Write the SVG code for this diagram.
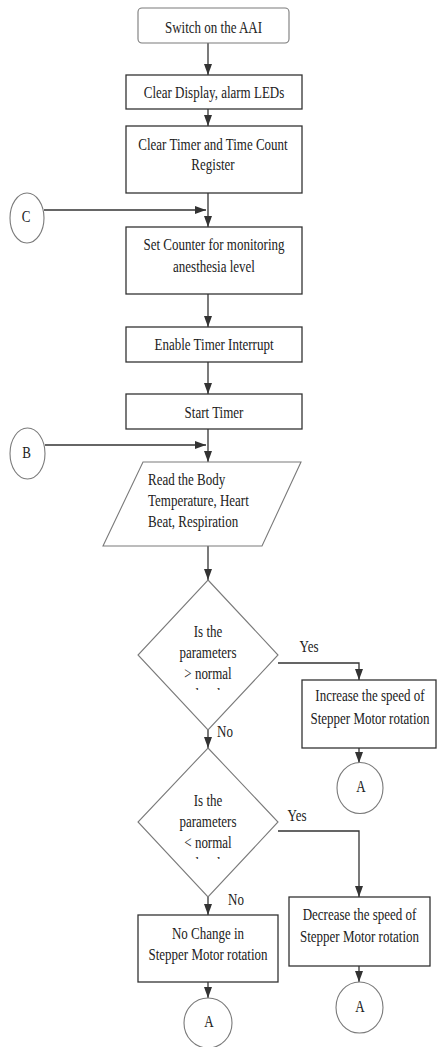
<svg xmlns="http://www.w3.org/2000/svg" width="437" height="1047" viewBox="0 0 437 1047">
<style>
text{font-family:"Liberation Serif","Times New Roman",serif;font-size:13px;fill:#222;text-anchor:middle}
.l{text-anchor:start}
.box{fill:#fff;stroke:#333;stroke-width:1.3}
.soft{fill:#fff;stroke:#7a7a7a;stroke-width:1.1}
.con{fill:none;stroke:#333;stroke-width:1.3}
</style>
<defs>
<marker id="ah" viewBox="0 0 10 10" refX="10" refY="5" markerWidth="11" markerHeight="8" markerUnits="userSpaceOnUse" orient="auto" preserveAspectRatio="none"><path d="M0,0 L10,5 L0,10 z" fill="#333"/></marker>
<clipPath id="c1"><rect x="130" y="600" width="160" height="90"/></clipPath>
<clipPath id="c2"><rect x="130" y="770" width="160" height="89"/></clipPath>
</defs>
<rect width="437" height="1047" fill="#fff"/>
<g id="connectors">
<path class="con" marker-end="url(#ah)" d="M208,43 V75"/>
<path class="con" marker-end="url(#ah)" d="M208,109 V126"/>
<path class="con" marker-end="url(#ah)" d="M208,193 V227"/>
<path class="con" marker-end="url(#ah)" d="M44,210 H206"/>
<path class="con" marker-end="url(#ah)" d="M208,294 V327"/>
<path class="con" marker-end="url(#ah)" d="M208,362 V394"/>
<path class="con" marker-end="url(#ah)" d="M208,429 V462"/>
<path class="con" marker-end="url(#ah)" d="M45,445 H206"/>
<path class="con" marker-end="url(#ah)" d="M208,546 V580"/>
<path class="con" marker-end="url(#ah)" d="M208,730 V748"/>
<path class="con" marker-end="url(#ah)" d="M278,663 H359 V680"/>
<path class="con" marker-end="url(#ah)" d="M359,748 V763"/>
<path class="con" marker-end="url(#ah)" d="M278,831 H359 V897"/>
<path class="con" marker-end="url(#ah)" d="M208,897 V915"/>
<path class="con" marker-end="url(#ah)" d="M359,966 V982"/>
<path class="con" marker-end="url(#ah)" d="M208,982 V998"/>
<text transform="translate(309,652) scale(1,1.3)">Yes</text>
<text class="l" transform="translate(217,737) scale(1,1.3)">No</text>
<text transform="translate(297,821) scale(1,1.3)">Yes</text>
<text class="l" transform="translate(228,905) scale(1,1.3)">No</text>
</g>
<g id="start">
<rect class="soft" x="138" y="8" width="151" height="35" rx="4"/>
<text transform="translate(213.5,33) scale(1,1.3)">Switch on the AAI</text>
</g>
<g id="clearDisplay">
<rect class="box" x="126" y="75" width="176" height="34"/>
<text transform="translate(214,97.5) scale(1,1.3)">Clear Display, alarm LEDs</text>
</g>
<g id="clearTimer">
<rect class="box" x="126" y="126" width="176" height="67"/>
<text transform="translate(213,150) scale(1,1.3)">Clear Timer and Time Count</text>
<text transform="translate(213,170) scale(1,1.3)">Register</text>
</g>
<g id="connC">
<ellipse class="soft" cx="27" cy="218" rx="17" ry="25"/>
<text transform="translate(26,222) scale(1,1.3)">C</text>
</g>
<g id="setCounter">
<rect class="box" x="126" y="227" width="176" height="67"/>
<text transform="translate(214,250) scale(1,1.3)">Set Counter for monitoring</text>
<text transform="translate(214,272) scale(1,1.3)">anesthesia level</text>
</g>
<g id="enableTimer">
<rect class="box" x="126" y="327" width="176" height="35"/>
<text transform="translate(214,350) scale(1,1.3)">Enable Timer Interrupt</text>
</g>
<g id="startTimer">
<rect class="box" x="126" y="394" width="176" height="35"/>
<text transform="translate(214,418) scale(1,1.3)">Start Timer</text>
</g>
<g id="connB">
<ellipse class="soft" cx="27.5" cy="453.5" rx="17.5" ry="25.5"/>
<text transform="translate(26.5,458) scale(1,1.3)">B</text>
</g>
<g id="readInput">
<polygon class="soft" points="143,462 301,462 262,546 103,546"/>
<text class="l" transform="translate(148,485) scale(1,1.3)">Read the Body</text>
<text class="l" transform="translate(148,506) scale(1,1.3)">Temperature, Heart</text>
<text class="l" transform="translate(148,527) scale(1,1.3)">Beat, Respiration</text>
</g>
<g id="decision1">
<polygon class="soft" points="208,580 278,655 208,730 138,655"/>
<text transform="translate(208,637) scale(1,1.3)">Is the</text>
<text transform="translate(208,658) scale(1,1.3)">parameters</text>
<text transform="translate(208,679) scale(1,1.3)">&gt; normal</text>
<g clip-path="url(#c1)"><text transform="translate(208,700) scale(1,1.3)">level</text></g>
</g>
<g id="increase">
<rect class="box" x="302" y="680" width="134" height="68"/>
<text transform="translate(370,701) scale(1,1.3)">Increase the speed of</text>
<text transform="translate(370,724) scale(1,1.3)">Stepper Motor rotation</text>
</g>
<g id="connA1">
<ellipse class="soft" cx="360" cy="788" rx="23" ry="25.5"/>
<text transform="translate(361,792) scale(1,1.3)">A</text>
</g>
<g id="decision2">
<polygon class="soft" points="208,748 278,822 208,897 138,822"/>
<text transform="translate(208,806) scale(1,1.3)">Is the</text>
<text transform="translate(208,827) scale(1,1.3)">parameters</text>
<text transform="translate(208,848) scale(1,1.3)">&lt; normal</text>
<g clip-path="url(#c2)"><text transform="translate(208,869) scale(1,1.3)">level</text></g>
</g>
<g id="decrease">
<rect class="box" x="289" y="897" width="141" height="69"/>
<text transform="translate(359.5,920) scale(1,1.3)">Decrease the speed of</text>
<text transform="translate(359.5,942) scale(1,1.3)">Stepper Motor rotation</text>
</g>
<g id="connA2">
<ellipse class="soft" cx="359.5" cy="1007.5" rx="23.5" ry="25.5"/>
<text transform="translate(360,1012) scale(1,1.3)">A</text>
</g>
<g id="noChange">
<rect class="box" x="138" y="915" width="140" height="67"/>
<text transform="translate(208,939) scale(1,1.3)">No Change in</text>
<text transform="translate(208,960) scale(1,1.3)">Stepper Motor rotation</text>
</g>
<g id="connA3">
<ellipse class="soft" cx="208" cy="1023" rx="24" ry="25"/>
<text transform="translate(209,1027) scale(1,1.3)">A</text>
</g>
</svg>
